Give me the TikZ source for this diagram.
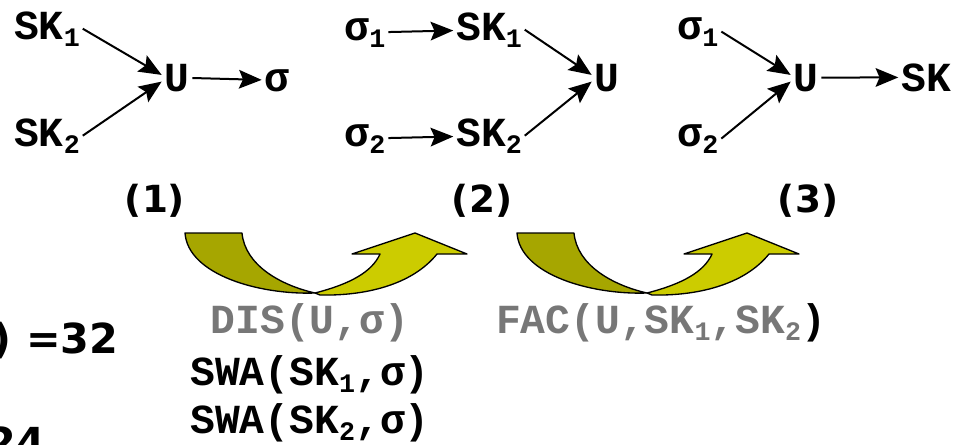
\documentclass[tikz,border=0pt]{standalone}
\usepackage{fontspec}
\setmainfont{DejaVu Sans}
\newfontfamily\cour{Liberation Mono}
\usetikzlibrary{arrows.meta}

\definecolor{olivedark}{RGB}{166,166,0}
\definecolor{olivelight}{RGB}{204,204,0}
\definecolor{opgrey}{RGB}{119,119,119}

% lowered small index, as in SK_1
\newcommand{\idx}[1]{\raisebox{-0.17em}{\fontsize{20}{20}\selectfont #1}}

\tikzset{
  var/.style={font=\cour\bfseries\fontsize{31}{31}\selectfont, inner sep=2pt, anchor=base},
  op/.style={var, text=opgrey},
  stage/.style={font=\bfseries\fontsize{28}{28}\selectfont, anchor=base},
  arr/.style={-{Stealth[length=17pt,width=14pt,inset=3pt]}, line width=1.5pt},
  turn/.style={draw=black, line width=1pt, line join=round},
}

\begin{document}
\begin{tikzpicture}[x=0.75pt,y=-0.75pt]
        \useasboundingbox (0,0) rectangle (963,444);
        \clip (0,0) rectangle (963,444);

        % stage (1)
        \node[var] (sk1a) at (47,39) {SK\idx{1}};
        \node[var] (sk2a) at (47,146) {SK\idx{2}};
        \node[var] (ua) at (177,91) {U};
        \node[var] (sa) at (277,91) {σ};

        \draw[arr] (sk1a.east) -- ([yshift=2pt]ua.west);
        \draw[arr] (sk2a.east) -- ([yshift=-3pt]ua.west);
        \draw[arr] (ua) -- (sa);

        % stage (2)
        \node[var] (s1b) at (365,40) {σ\idx{1}};
        \node[var] (s2b) at (365,146) {σ\idx{2}};
        \node[var] (sk1b) at (489,40) {SK\idx{1}};
        \node[var] (sk2b) at (489,146) {SK\idx{2}};
        \node[var] (ub) at (607,91) {U};

        \draw[arr] (s1b) -- (sk1b);
        \draw[arr] (s2b) -- (sk2b);
        \draw[arr] (sk1b.east) -- ([yshift=2pt]ub.west);
        \draw[arr] (sk2b.east) -- ([yshift=-3pt]ub.west);

        % stage (3)
        \node[var] (s1c) at (698,39) {σ\idx{1}};
        \node[var] (s2c) at (698,146) {σ\idx{2}};
        \node[var] (uc) at (806,91) {U};
        \node[var] (skc) at (926,91) {SK};

        \draw[arr] (s1c.east) -- ([yshift=2pt]uc.west);
        \draw[arr] (s2c.east) -- ([yshift=-3pt]uc.west);
        \draw[arr] (uc) -- (skc);

        \node[stage] (n1) at (155,212) {(1)};
        \node[stage] (n2) at (482,212) {(2)};
        \node[stage] (n3) at (808,212) {(3)};

        % turning arrows between the stages
        \begin{scope}
          \filldraw[turn, fill=olivedark] (185,233) -- (242,233) .. controls (245,265) and (280,285) .. (315,293)
              .. controls (260,295) and (188,275) .. (185,233) -- cycle;
          \filldraw[turn, fill=olivelight] (315,293) .. controls (350,284) and (372,272) .. (380,254) -- (352,254)
              -- (415,233) -- (467,254) -- (437,254) .. controls (412,285) and (365,296) .. (320,295) -- cycle;
        \end{scope}
        \begin{scope}[shift={(332,0)}]
          \filldraw[turn, fill=olivedark] (185,233) -- (242,233) .. controls (245,265) and (280,285) .. (315,293)
              .. controls (260,295) and (188,275) .. (185,233) -- cycle;
          \filldraw[turn, fill=olivelight] (315,293) .. controls (350,284) and (372,272) .. (380,254) -- (352,254)
              -- (415,233) -- (467,254) -- (437,254) .. controls (412,285) and (365,296) .. (320,295) -- cycle;
        \end{scope}

        \node[op] (dis) at (310,333) {DIS(U,σ)};
        \node[var] (swa1) at (310,385) {SWA(SK\idx{1},σ)};
        \node[var] (swa2) at (310,433) {SWA(SK\idx{2},σ)};
        \node[op] (fac) at (661,333) {FAC(U,SK\idx{1},SK\idx{2}\textcolor{black}{)}};

        % counts at the left edge
        \node[font=\bfseries\fontsize{31}{31}\selectfont, anchor=base east] (cnt1) at (123,353) {) =32};
        \node[font=\bfseries\fontsize{31}{31}\selectfont, anchor=base east] (cnt2) at (50,457) {24};
\end{tikzpicture}
\end{document}
